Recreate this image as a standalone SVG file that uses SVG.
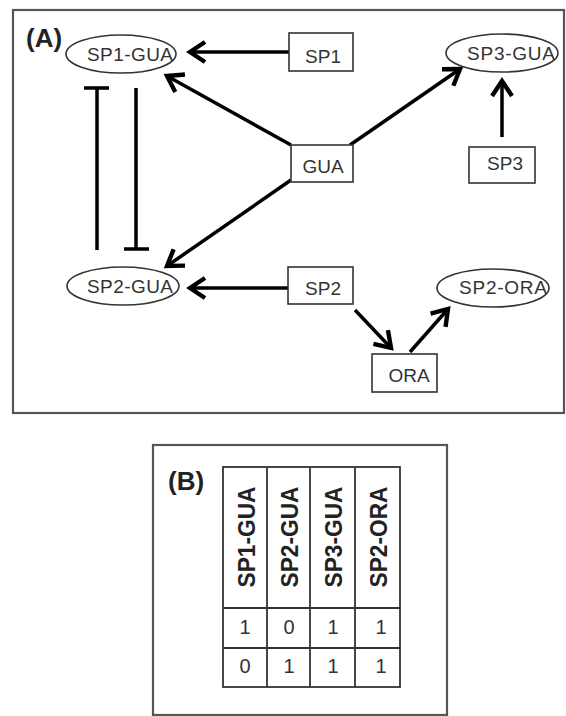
<svg xmlns="http://www.w3.org/2000/svg" width="566" height="716" viewBox="0 0 566 716">
<defs>
<style>
.frame{fill:none;stroke:#555;stroke-width:2.2}
.node{fill:#fff;stroke:#333;stroke-width:1.6}
.lbl{font-family:"Liberation Sans",Arial,sans-serif;font-size:19px;fill:#333;text-anchor:middle}
.panel{font-family:"Liberation Sans",Arial,sans-serif;font-size:26px;font-weight:bold;fill:#222}
.edge{fill:none;stroke:#000;stroke-width:3.5}
.grid{fill:none;stroke:#333;stroke-width:1.8}
.hdr{font-family:"Liberation Sans",Arial,sans-serif;font-size:23px;font-weight:bold;fill:#222;text-anchor:middle}
.val{font-family:"Liberation Sans",Arial,sans-serif;font-size:20px;fill:#333;text-anchor:middle}
</style>
<marker id="arr" markerUnits="userSpaceOnUse" markerWidth="30" markerHeight="30" viewBox="-16 -12 20 24" refX="0" refY="0" orient="auto">
<path d="M-12,-8 L0,0 L-12,8" fill="none" stroke="#000" stroke-width="3.5"/>
</marker>
</defs>
<rect class="frame" x="13" y="10" width="551" height="403"/>
<text class="panel" x="26" y="47">(A)</text>
<g id="connectors">
<line class="edge" x1="289" y1="52" x2="190" y2="52" marker-end="url(#arr)"/>
<line class="edge" x1="291" y1="145" x2="167" y2="76" marker-end="url(#arr)"/>
<line class="edge" x1="350" y1="145" x2="460" y2="69" marker-end="url(#arr)"/>
<line class="edge" x1="502" y1="137" x2="502" y2="81" marker-end="url(#arr)"/>
<line class="edge" x1="291" y1="180" x2="167" y2="266" marker-end="url(#arr)"/>
<line class="edge" x1="288" y1="288" x2="190" y2="288" marker-end="url(#arr)"/>
<line class="edge" x1="355" y1="310" x2="391" y2="348" marker-end="url(#arr)"/>
<line class="edge" x1="410" y1="352" x2="448" y2="309" marker-end="url(#arr)"/>
<path class="edge" d="M97,250 V88 M84,88 H109"/>
<path class="edge" d="M136,88 V249 M124,249 H149"/>
</g>
<g id="SP1-GUA"><ellipse class="node" cx="121" cy="54" rx="55" ry="19"/><text class="lbl" x="130" y="61" textLength="86">SP1-GUA</text></g>
<g id="SP1"><rect class="node" x="289" y="33" width="64" height="38"/><text class="lbl" x="323" y="63">SP1</text></g>
<g id="SP3-GUA"><ellipse class="node" cx="502" cy="53" rx="56" ry="19"/><text class="lbl" x="511" y="60" textLength="88">SP3-GUA</text></g>
<g id="GUA"><rect class="node" x="291" y="145" width="62" height="37"/><text class="lbl" x="323" y="173">GUA</text></g>
<g id="SP3"><rect class="node" x="469" y="147" width="66" height="36"/><text class="lbl" x="505" y="170">SP3</text></g>
<g id="SP2-GUA"><ellipse class="node" cx="123" cy="286" rx="56" ry="19"/><text class="lbl" x="130" y="293" textLength="86">SP2-GUA</text></g>
<g id="SP2"><rect class="node" x="288" y="267" width="65" height="37"/><text class="lbl" x="323" y="295">SP2</text></g>
<g id="SP2-ORA"><ellipse class="node" cx="493" cy="288" rx="56" ry="19"/><text class="lbl" x="503" y="294" textLength="88">SP2-ORA</text></g>
<g id="ORA"><rect class="node" x="372" y="354" width="65" height="38"/><text class="lbl" x="409" y="382">ORA</text></g>
<rect class="frame" x="153" y="445" width="294" height="270"/>
<text class="panel" x="168" y="490">(B)</text>
<g id="table">
<rect class="grid" x="223" y="467" width="177" height="220"/>
<path class="grid" d="M267,467 V687 M310,467 V687 M355,467 V687 M223,608 H400 M223,648 H400"/>
<text class="hdr" transform="translate(255,537) rotate(-90)" textLength="101" lengthAdjust="spacingAndGlyphs">SP1-GUA</text>
<text class="hdr" transform="translate(298,537) rotate(-90)" textLength="101" lengthAdjust="spacingAndGlyphs">SP2-GUA</text>
<text class="hdr" transform="translate(342,537) rotate(-90)" textLength="101" lengthAdjust="spacingAndGlyphs">SP3-GUA</text>
<text class="hdr" transform="translate(387,537) rotate(-90)" textLength="101" lengthAdjust="spacingAndGlyphs">SP2-ORA</text>
<text class="val" x="245" y="634">1</text>
<text class="val" x="289" y="634">0</text>
<text class="val" x="333" y="634">1</text>
<text class="val" x="381" y="634">1</text>
<text class="val" x="245" y="673">0</text>
<text class="val" x="289" y="673">1</text>
<text class="val" x="333" y="673">1</text>
<text class="val" x="381" y="673">1</text>
</g>
</svg>
